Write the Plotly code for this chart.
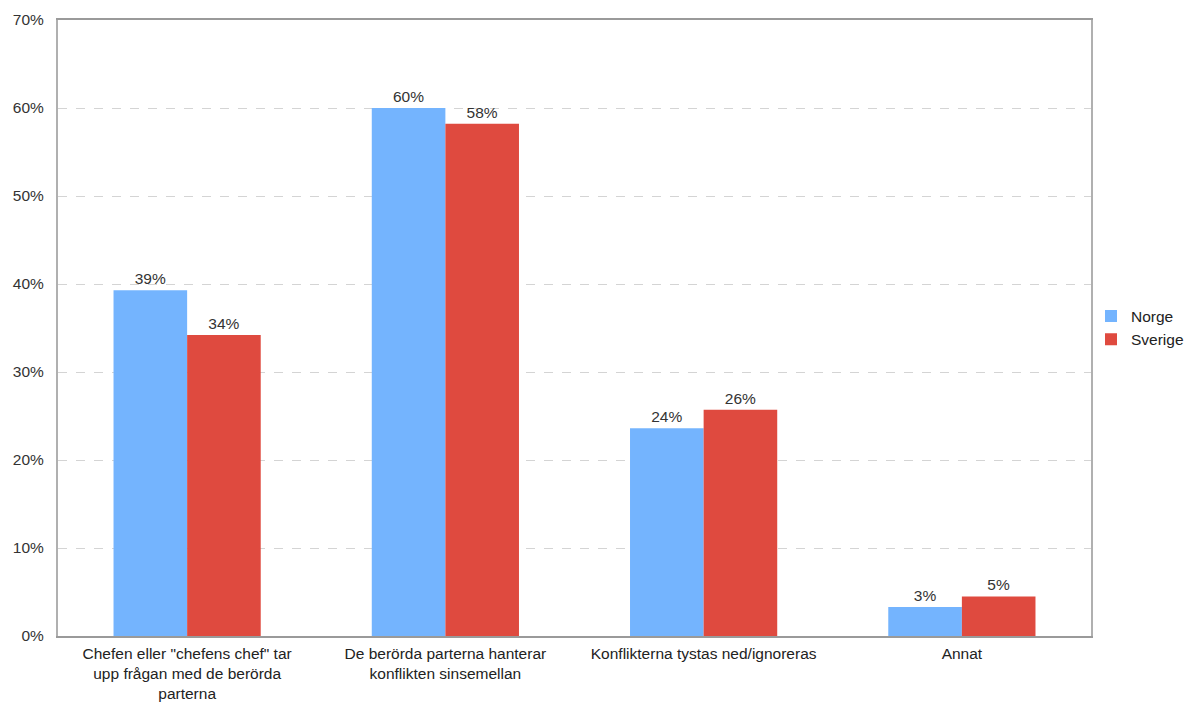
import plotly.graph_objects as go

categories = [
    'Chefen eller "chefens chef" tar<br>upp frågan med de berörda<br>parterna',
    'De berörda parterna hanterar<br>konflikten sinsemellan',
    'Konflikterna tystas ned/ignoreras',
    'Annat',
]
norge = [39.3, 60.0, 23.6, 3.3]
sverige = [34.2, 58.2, 25.7, 4.5]
norge_labels = ["39%", "60%", "24%", "3%"]
sverige_labels = ["34%", "58%", "26%", "5%"]
y_ticks = [0, 10, 20, 30, 40, 50, 60, 70]
y_ticklabels = ["0%", "10%", "20%", "30%", "40%", "50%", "60%", "70%"]

FONT = "Liberation Sans, Arial, sans-serif"
FS = 15.5

fig = go.Figure()
fig.add_trace(go.Bar(
    name="Norge", x=categories, y=norge, text=norge_labels,
    textposition="outside", marker=dict(color="#74B4FE", line=dict(width=0)),
    textfont=dict(size=FS, color="#333333", family=FONT), cliponaxis=False,
))
fig.add_trace(go.Bar(
    name="Sverige", x=categories, y=sverige, text=sverige_labels,
    textposition="outside", marker=dict(color="#DF4A3F", line=dict(width=0)),
    textfont=dict(size=FS, color="#333333", family=FONT), cliponaxis=False,
))

fig.update_layout(
    width=1189, height=704,
    margin=dict(l=58, r=98, t=20, b=68, autoexpand=False),
    paper_bgcolor="white", plot_bgcolor="white",
    barmode="group", bargap=0.43, bargroupgap=0,
    font=dict(family=FONT, size=FS, color="#222222"),
    showlegend=True,
    legend=dict(x=1.0, y=0.5, xanchor="left", yanchor="middle",
                font=dict(size=FS, color="#222222"),
                bgcolor="rgba(0,0,0,0)",
                itemwidth=30, tracegroupgap=0, borderwidth=0),
    uniformtext=dict(mode=False),
)
fig.update_xaxes(
    showline=True, linecolor="#9a9a9a", linewidth=2, mirror=True,
    ticks="outside", ticklen=2, tickcolor="rgba(0,0,0,0)",
    tickfont=dict(size=FS, color="#222222"), showgrid=False,
)
fig.update_yaxes(
    range=[0, 70], tickvals=y_ticks, ticktext=y_ticklabels,
    showline=True, linecolor="#b0b0b0", linewidth=2, mirror=True,
    showgrid=True, gridcolor="#d4d4d4", griddash="dash", gridwidth=1,
    tickfont=dict(size=FS, color="#333333"),
    ticks="outside", ticklen=9, tickcolor="rgba(0,0,0,0)", zeroline=False,
)
fig.write_html("out.html")
